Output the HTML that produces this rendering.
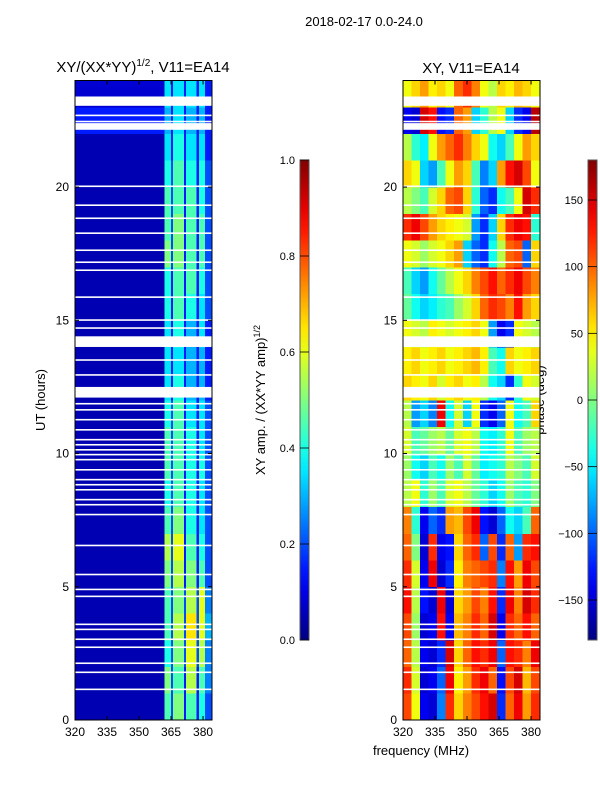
<!DOCTYPE html>
<html><head><meta charset="utf-8"><style>
body{margin:0;background:#fff;}
svg text{font-family:"Liberation Sans","DejaVu Sans",sans-serif;fill:#000;}
</style></head><body>
<svg id="fig" width="600" height="800" xmlns="http://www.w3.org/2000/svg">
<text x="364" y="26" font-size="13" text-anchor="middle">2018-02-17 0.0-24.0</text>
<text x="143" y="72" font-size="15" text-anchor="middle">XY/(XX*YY)<tspan font-size="10" dy="-6">1/2</tspan><tspan dy="6">, V11=EA14</tspan></text>
<text x="471" y="73" font-size="15" text-anchor="middle">XY, V11=EA14</text>
<text transform="translate(45,400) rotate(-90)" font-size="13" text-anchor="middle">UT (hours)</text>
<text transform="translate(265,400) rotate(-90)" font-size="13" text-anchor="middle">XY amp. / (XX*YY amp)<tspan font-size="9" dy="-5">1/2</tspan></text>
<text transform="translate(544,400) rotate(-90)" font-size="13" text-anchor="middle">phase (deg)</text>
<text x="421" y="755" font-size="13" text-anchor="middle">frequency (MHz)</text>
<g id="left"></g><g id="right"></g><g id="cbars"></g>
</svg>
<script>
const NS="http://www.w3.org/2000/svg";
const timeRows=[0,1,2,3,4,5,6,7,8,9,10,11,12,13,14,15,16,17,18,19,20,21,22,23];
const ampFreqEdges=[320,362,365,366,371,372,377,378,381,384];
const ampValues=[
[0.05,0.45,0.2,0.5,0.15,0.45,0.15,0.4,0.2],
[0.05,0.5,0.2,0.45,0.15,0.55,0.15,0.45,0.25],
[0.05,0.4,0.2,0.5,0.2,0.6,0.2,0.55,0.25],
[0.05,0.45,0.2,0.55,0.2,0.65,0.2,0.6,0.3],
[0.05,0.45,0.2,0.5,0.2,0.55,0.2,0.6,0.25],
[0.05,0.5,0.2,0.55,0.15,0.5,0.15,0.45,0.2],
[0.05,0.55,0.2,0.6,0.15,0.45,0.15,0.4,0.2],
[0.05,0.45,0.2,0.5,0.15,0.4,0.15,0.35,0.2],
[0.05,0.4,0.2,0.45,0.15,0.4,0.15,0.35,0.2],
[0.05,0.45,0.2,0.45,0.15,0.4,0.15,0.4,0.2],
[0.05,0.45,0.2,0.45,0.15,0.4,0.15,0.35,0.2],
[0.05,0.4,0.2,0.45,0.15,0.35,0.15,0.35,0.2],
[0.05,0.35,0.15,0.4,0.15,0.3,0.15,0.3,0.15],
[0.05,0.35,0.15,0.35,0.15,0.3,0.15,0.3,0.15],
[0.05,0.35,0.15,0.4,0.15,0.3,0.15,0.35,0.15],
[0.05,0.4,0.15,0.45,0.15,0.4,0.15,0.35,0.2],
[0.05,0.4,0.15,0.45,0.15,0.45,0.15,0.4,0.2],
[0.05,0.5,0.2,0.5,0.15,0.45,0.15,0.45,0.2],
[0.05,0.45,0.2,0.5,0.15,0.45,0.15,0.45,0.2],
[0.05,0.45,0.2,0.45,0.15,0.45,0.15,0.4,0.2],
[0.05,0.4,0.2,0.45,0.15,0.4,0.15,0.4,0.2],
[0.05,0.35,0.15,0.4,0.15,0.35,0.15,0.35,0.15],
[0.15,0.3,0.15,0.35,0.15,0.3,0.15,0.3,0.15],
[0.08,0.35,0.15,0.35,0.15,0.35,0.15,0.35,0.15]];
const phaseFreqEdges=[320,324,328,332,336,340,344,348,352,356,360,364,368,372,376,380,384];
const phaseValues=[
[110,40,-140,-150,-90,120,60,90,110,130,150,-120,100,140,80,120],
[120,30,-150,-140,-100,140,50,80,120,140,100,-130,110,150,70,110],
[100,20,-140,-150,-120,150,60,100,130,120,140,-100,130,120,90,140],
[110,10,-150,-140,130,-140,70,90,120,100,150,-140,120,100,130,100],
[130,20,-130,-150,140,-150,60,80,110,90,130,-120,140,90,150,120],
[120,30,-140,140,-150,-120,50,90,100,110,120,-90,130,80,140,110],
[100,0,-150,120,-140,-130,60,100,120,-100,110,-120,100,-80,120,130],
[90,-30,-140,-100,-120,80,70,110,140,-130,-150,-100,-40,-60,-20,100],
[20,40,-30,10,-20,30,40,20,-10,-30,-60,-40,10,-20,-30,0],
[10,-40,-60,-20,-40,10,-20,30,-10,-50,-40,-30,20,0,-20,30],
[30,-20,-10,10,20,-10,30,40,20,-40,-50,-30,40,-20,10,20],
[20,-80,-60,-90,140,-40,30,-60,40,-120,-140,-100,40,-40,-20,60],
[60,50,40,60,30,50,60,40,50,20,-40,-60,-120,-30,40,30],
[50,60,40,50,60,40,50,60,70,50,-20,-40,60,40,50,60],
[40,30,20,50,40,30,40,50,60,40,-80,-140,-120,40,30,20],
[-10,-40,-60,-50,-30,-20,10,30,60,100,120,110,90,130,80,60],
[-20,-60,-80,-40,-10,20,40,60,90,110,130,100,120,140,110,90],
[40,30,10,30,40,60,80,-60,-100,-120,-40,20,100,110,-100,60],
[120,140,110,80,60,50,40,30,-80,-120,-60,60,120,140,130,-30],
[20,0,-20,30,60,100,110,60,-30,-100,-120,-40,-20,40,150,120],
[60,40,-60,-80,-20,40,80,60,-20,-90,-60,80,130,150,110,40],
[20,-30,-50,40,80,100,120,90,60,40,-40,-60,-20,40,80,60],
[-140,-150,150,130,-130,-120,100,80,-60,-30,20,40,-60,-120,-140,160],
[40,60,80,50,60,40,100,120,90,40,20,60,50,70,60,40]];
const gapStarts=[23.05,22.15,14.0,12.1,22.66,22.43,20.0,19.29,18.8,18.24,17.6,17.15,16.85,15.84,14.98,14.68,13.48,12.92,11.84,11.61,11.24,10.86,10.49,10.3,10.11,9.93,9.74,9.36,8.99,8.8,8.61,8.24,8.05,7.68,6.52,5.43,4.87,4.61,3.56,3.37,3.0,2.7,2.1,1.76,1.12];
const gapEnds=[23.4,22.4,14.4,12.5,22.72,22.49,20.06,19.35,18.86,18.3,17.66,17.21,16.91,15.9,15.04,14.74,13.54,12.98,11.9,11.67,11.3,10.92,10.55,10.36,10.17,9.99,9.8,9.42,9.05,8.86,8.67,8.3,8.11,7.74,6.58,5.49,4.93,4.67,3.62,3.43,3.06,2.76,2.16,1.82,1.18];
const xTicks=[320,335,350,365,380];
const yTicks=[0,5,10,15,20];
const ampTicks=[0.0,0.2,0.4,0.6,0.8,1.0];
const phaseTicks=[-150,-100,-50,0,50,100,150];

const Y0=720,Y1=80.5,T0=0,T1=24;
const ys=t=>Y0-(t-T0)/(T1-T0)*(Y0-Y1);
function xsF(x0){return f=>x0+(f-320)/(384.2-320)*137;}
function clamp(v){return Math.max(0,Math.min(1,v));}
function jet(v){v=clamp(v);const r=clamp(1.5-Math.abs(4*v-3)),g=clamp(1.5-Math.abs(4*v-2)),b=clamp(1.5-Math.abs(4*v-1));return `rgb(${Math.round(r*255)},${Math.round(g*255)},${Math.round(b*255)})`;}
function mk(tag,attrs,parent){const e=document.createElementNS(NS,tag);for(const k in attrs)e.setAttribute(k,attrs[k]);parent.appendChild(e);return e;}

function panel(gid,x0,edges,values,norm,prefix){
  const g=document.getElementById(gid);const xs=xsF(x0);
  timeRows.forEach((t,ri)=>{
    for(let ci=0;ci<edges.length-1;ci++){
      const r=mk('rect',{x:xs(edges[ci]),y:ys(t+1),width:xs(edges[ci+1])-xs(edges[ci])+0.3,height:ys(t)-ys(t+1)+0.3,fill:jet(norm(values[ri][ci])),'shape-rendering':'crispEdges'},g);
      
      
    }
  });
  gapStarts.forEach((s,i)=>{
    const r=mk('rect',{x:x0,y:ys(gapEnds[i]),width:137,height:ys(s)-ys(gapEnds[i]),fill:'#fff'},g);
    
    
  });
  const fr=mk('rect',{x:x0,y:Y1,width:137,height:Y0-Y1,fill:'none',stroke:'#000','stroke-width':1},g);
  
  
  xTicks.forEach(f=>{
    mk('line',{x1:xs(f),x2:xs(f),y1:Y0,y2:Y0-4,stroke:'#000'},g);
    mk('line',{x1:xs(f),x2:xs(f),y1:Y1,y2:Y1+4,stroke:'#000'},g);
    const tx=mk('text',{x:xs(f),y:Y0+16,'font-size':12,'text-anchor':'middle'},g);tx.textContent=f;
    
    
  });
  yTicks.forEach(t=>{
    mk('line',{x1:x0,x2:x0+4,y1:ys(t),y2:ys(t),stroke:'#000'},g);
    mk('line',{x1:x0+137,x2:x0+133,y1:ys(t),y2:ys(t),stroke:'#000'},g);
    const tx=mk('text',{x:x0-6,y:ys(t)+4,'font-size':12,'text-anchor':'end'},g);tx.textContent=t;
    
    
  });
}
panel('left',75,ampFreqEdges,ampValues,v=>v,'amp');
panel('right',403,phaseFreqEdges,phaseValues,v=>(v+180)/360,'phase');

function cbar(x,ticks,lo,hi,fmt,name){
  const g=document.getElementById('cbars');
  const id='grad'+name;
  const defs=mk('defs',{},g);const lg=mk('linearGradient',{id:id,x1:0,y1:1,x2:0,y2:0},defs);
  for(let i=0;i<=20;i++)mk('stop',{offset:i/20,'stop-color':jet(i/20)},lg);
  const r=mk('rect',{x:x,y:160,width:9,height:480,fill:`url(#${id})`,stroke:'#555','stroke-width':1},g);
  
  
  const cy=v=>640-(v-lo)/(hi-lo)*480;
  ticks.forEach(v=>{
    mk('line',{x1:x,x2:x+9,y1:cy(v),y2:cy(v),stroke:'#000','stroke-width':0.8},g);
    const tx=mk('text',{x:x-5,y:cy(v)+4,'font-size':11,'text-anchor':'end'},g);tx.textContent=fmt(v);
    
    
  });
}
cbar(300,ampTicks,0,1,v=>v.toFixed(1),'amp');
cbar(588,phaseTicks,-180,180,v=>v<0?'\u2212'+(-v):String(v),'phase');
</script>
</body></html>
